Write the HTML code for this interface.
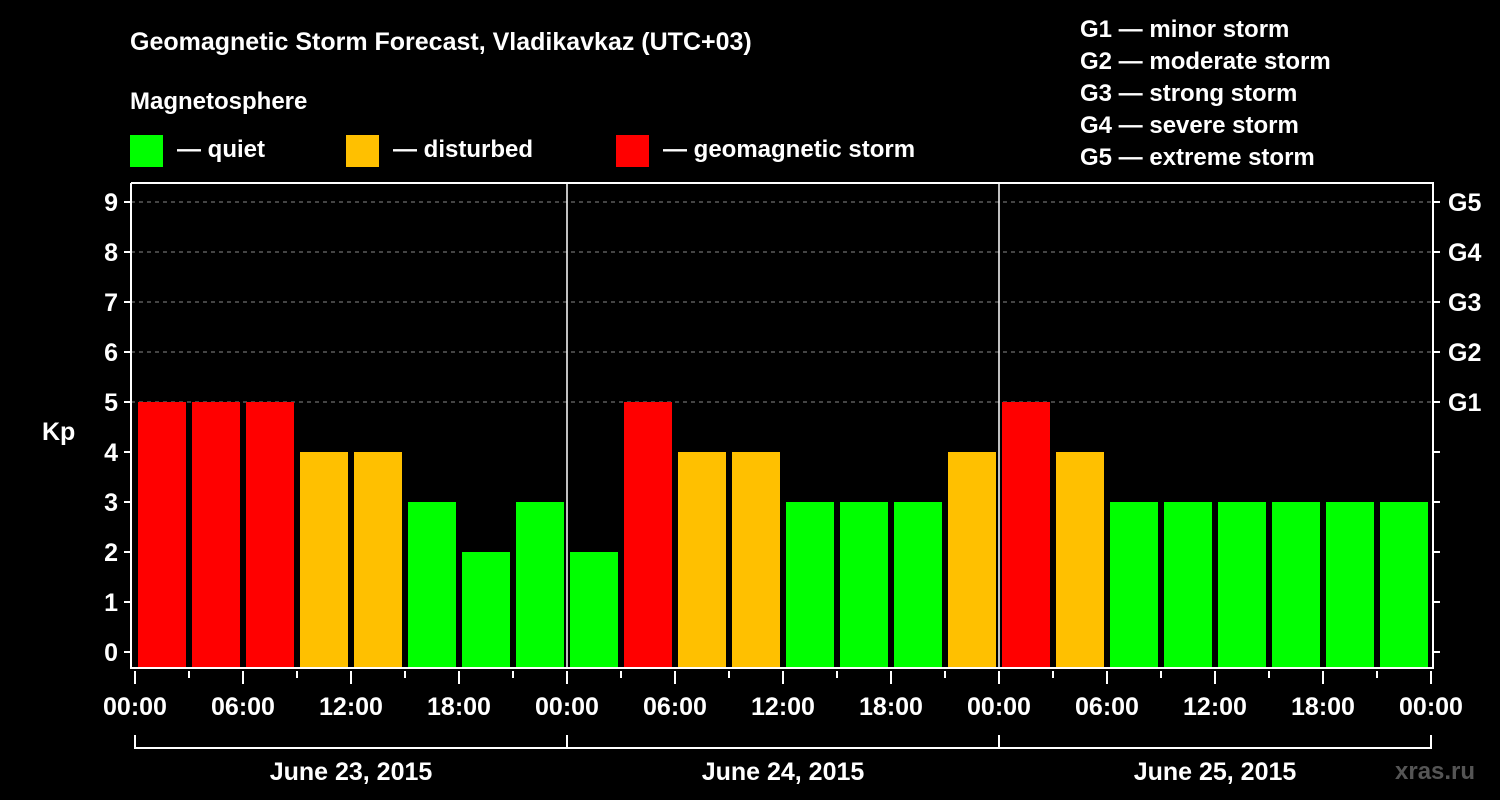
<!DOCTYPE html>
<html><head><meta charset="utf-8"><style>
body{margin:0;background:#000;width:1500px;height:800px;overflow:hidden}
svg{display:block;font-family:"Liberation Sans",Arial,sans-serif;font-weight:bold;fill:#fff}
</style></head><body>
<svg id="chart" width="1500" height="800">
<text x="130" y="50" font-size="25">Geomagnetic Storm Forecast, Vladikavkaz (UTC+03)</text>
<text x="130" y="109" font-size="24">Magnetosphere</text>
<g><rect x="130" y="135" width="33" height="32" fill="#00ff00"/><text x="177" y="157" font-size="24">— quiet</text></g>
<g><rect x="346" y="135" width="33" height="32" fill="#ffc000"/><text x="393" y="157" font-size="24">— disturbed</text></g>
<g><rect x="616" y="135" width="33" height="32" fill="#ff0000"/><text x="663" y="157" font-size="24">— geomagnetic storm</text></g>
<g font-size="24">
<text x="1080" y="37">G1 — minor storm</text><text x="1080" y="69">G2 — moderate storm</text><text x="1080" y="101">G3 — strong storm</text><text x="1080" y="133">G4 — severe storm</text><text x="1080" y="165">G5 — extreme storm</text></g>
<g id="grid"></g><g id="bars"></g><g id="axes"></g>
<text x="42" y="440" font-size="25">Kp</text>
<text x="1395" y="779" font-size="24" fill="#555" style="fill:#555">xras.ru</text>
</svg>
<script>
const kpValues=[5,5,5,4,4,3,2,3, 2,5,4,4,3,3,3,4, 5,4,3,3,3,3,3,3];
const dayLabels=["June 23, 2015","June 24, 2015","June 25, 2015"];
const timeLabels=["00:00","06:00","12:00","18:00"];
const yTicks=[0,1,2,3,4,5,6,7,8,9];
const gLabels=["G1","G2","G3","G4","G5"];
const NS="http://www.w3.org/2000/svg";
const X0=135,SLOT=54,Y0=652,UNIT=50,LEFT=131,RIGHT=1433,TOP=183,BOT=668;
const xs=i=>X0+i*SLOT, ys=v=>Y0-v*UNIT;
function mk(tag,at,parent){const e=document.createElementNS(NS,tag);for(const k in at)e.setAttribute(k,at[k]);parent.appendChild(e);return e;}
const grid=document.getElementById('grid'),bars=document.getElementById('bars'),axes=document.getElementById('axes');
for(let v=5;v<=9;v++){const l=mk('line',{x1:LEFT,x2:RIGHT,y1:ys(v),y2:ys(v),stroke:'#888','stroke-dasharray':'4,4','stroke-width':1},grid);

}
kpValues.forEach((v,i)=>{const c=v>=5?'#ff0000':v>=4?'#ffc000':'#00ff00';
const r=mk('rect',{x:xs(i)+3,y:ys(v),width:48,height:BOT-ys(v),fill:c},bars);

});
// frame
const f=mk('path',{d:`M${LEFT} ${TOP}V${BOT}H${RIGHT}V${TOP}H${LEFT}`,fill:'none',stroke:'#fff','stroke-width':2},axes);


for(let d=1;d<dayLabels.length;d++){const x=xs(d*8);const l=mk('line',{x1:x,x2:x,y1:TOP,y2:BOT,stroke:'#fff','stroke-width':1.5},axes);

}
yTicks.forEach(v=>{mk('line',{x1:LEFT-7,x2:LEFT,y1:ys(v),y2:ys(v),stroke:'#fff','stroke-width':2},axes);
mk('line',{x1:RIGHT,x2:RIGHT+7,y1:ys(v),y2:ys(v),stroke:'#fff','stroke-width':2},axes);
const t=mk('text',{x:118,y:ys(v)+9,'font-size':25,'text-anchor':'end'},axes);t.textContent=v;

});
gLabels.forEach((g,i)=>{const t=mk('text',{x:1448,y:ys(i+5)+9,'font-size':25},axes);t.textContent=g;

});
for(let i=0;i<=kpValues.length;i++){const major=i%2==0;
mk('line',{x1:xs(i),x2:xs(i),y1:BOT+3,y2:BOT+(major?16:10),stroke:'#fff','stroke-width':2},axes);
if(major){const t=mk('text',{x:xs(i),y:715,'font-size':25,'text-anchor':'middle'},axes);t.textContent=i==kpValues.length?timeLabels[0]:timeLabels[(i/2)%4];

}}
const br=mk('path',{d:`M${xs(0)} 735V748H${xs(24)}V735`,fill:'none',stroke:'#fff','stroke-width':2},axes);


dayLabels.forEach((d,i)=>{mk('line',{x1:xs(i*8),x2:xs(i*8),y1:735,y2:748,stroke:'#fff','stroke-width':2},axes);
const t=mk('text',{x:xs(i*8+4),y:780,'font-size':25,'text-anchor':'middle'},axes);t.textContent=d;

});
</script>
</body></html>
